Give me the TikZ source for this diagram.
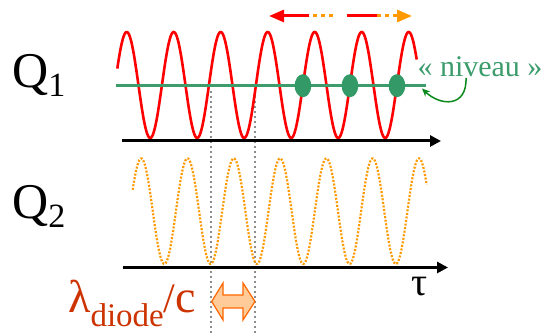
\documentclass[tikz,border=0pt]{standalone}
\usepackage{fontspec}
\setmainfont{Liberation Serif}
\usetikzlibrary{arrows.meta}
\definecolor{wred}{HTML}{FF0000}
\definecolor{worange}{HTML}{FF9900}
\definecolor{lvl}{HTML}{3C9C6C}
\definecolor{dotg}{HTML}{339966}
\definecolor{cgreen}{HTML}{0A8A1A}
\definecolor{lamc}{HTML}{CC3300}
\definecolor{dblfill}{HTML}{FFCC99}
\definecolor{dbldraw}{HTML}{FF6600}
\definecolor{vgray}{HTML}{8C8C8C}
\tikzset{
  redwave/.style={wred, line width=2.6pt},
  orwave/.style={worange, line width=2.2pt, dash pattern=on 2pt off 1.6pt},
  axisline/.style={black, line width=3pt, -{Triangle[length=11pt,width=11pt]}},
  vguide/.style={vgray, line width=2pt, dash pattern=on 2pt off 3pt},
  redseg/.style={wred, line width=3pt},
  orseg/.style={worange, line width=3pt, dash pattern=on 4pt off 4pt},
  lbl/.style={inner sep=0pt, anchor=base west},
}
\begin{document}
\begin{tikzpicture}[x=1pt,y=-1pt]
\useasboundingbox (0,0) rectangle (547,336);
% guides
\coordinate (g1t) at (211,91); \coordinate (g1b) at (211,336);
\coordinate (g2t) at (255,91); \coordinate (g2b) at (255,336);
\draw[vguide] (g1t) -- (g1b);
\draw[vguide] (g2t) -- (g2b);
% Q1 wave
\draw[redwave] plot[domain=117.3:416.7, samples=400, smooth] (\x, {85-53*cos(7.6596*(\x-126.7))});
% level line
\coordinate (lvla) at (116,85.7); \coordinate (lvlb) at (426,85.7);
\draw[lvl, line width=3pt] (lvla) -- (lvlb);
\foreach \k/\n in {302.95/d1, 349.95/d2, 396.95/d3}
  \fill[dotg] (\k,85.7) coordinate (\n) ellipse [x radius=8.3pt, y radius=11.5pt];
% Q1 axis
\coordinate (a1s) at (121.7,141); \coordinate (a1e) at (441,141);
\draw[axisline] (a1s) -- (a1e);
% Q2 wave
\draw[orwave] plot[domain=132.7:426.7, samples=400, smooth] (\x, {211.2-52.8*cos(7.7754*(\x-141.2))});
% Q2 axis
\coordinate (a2s) at (123,267.5); \coordinate (a2e) at (448,267.5);
\draw[axisline] (a2s) -- (a2e);
% top arrows
\coordinate (l1) at (333,16); \coordinate (l2) at (309,16); \coordinate (l3) at (269,16);
\coordinate (r1) at (347,16); \coordinate (r2) at (377,16); \coordinate (r3) at (412,16);
\draw[orseg] (l1) -- (l2);
\draw[redseg, -{Triangle[length=15pt,width=12pt]}] (l2) -- (l3);
\draw[redseg] (r1) -- (r2);
\draw[orseg, -{Triangle[length=15pt,width=12pt,sep=0pt]}] (r2) -- (r3);
% labels
\node[lbl] (q1) at (12,88) {\fontsize{50}{52}\selectfont Q\raisebox{-9pt}{\fontsize{34}{36}\selectfont 1}};
\node[lbl] (q2) at (12,219) {\fontsize{50}{52}\selectfont Q\raisebox{-9pt}{\fontsize{34}{36}\selectfont 2}};
\node[inner sep=0pt, anchor=base] (tau) at (420,296) {\fontsize{40}{42}\selectfont τ};
\node[lbl, text=lamc] (lam) at (68,313) {\fontsize{46}{48}\selectfont λ\raisebox{-14pt}{\fontsize{33}{35}\selectfont diode}\fontsize{42}{44}\selectfont /{\fontsize{46}{48}\selectfont c}};
\node[inner sep=0pt, anchor=base, text=lvl] (niv) at (480,77) {\fontsize{30}{32}\selectfont « niveau »};
% curved pointer
\coordinate (cst) at (466,78);
\coordinate (ctip) at (422,88.5);
\draw[cgreen, line width=1.5pt, -{Stealth[length=8pt,width=7pt]}] (cst) .. controls (467,108) and (440,106) .. (ctip);
% double arrow
\coordinate (dl) at (211.7,301.5); \coordinate (dr) at (255,301.5);
\draw[dbldraw, fill=dblfill, line width=1.2pt, line join=miter]
  (dl) -- (223,283) -- (223,295) -- (243,295) -- (243,283) -- (dr)
  -- (243,320) -- (243,308) -- (223,308) -- (223,320) -- cycle;
\end{tikzpicture}
\end{document}
